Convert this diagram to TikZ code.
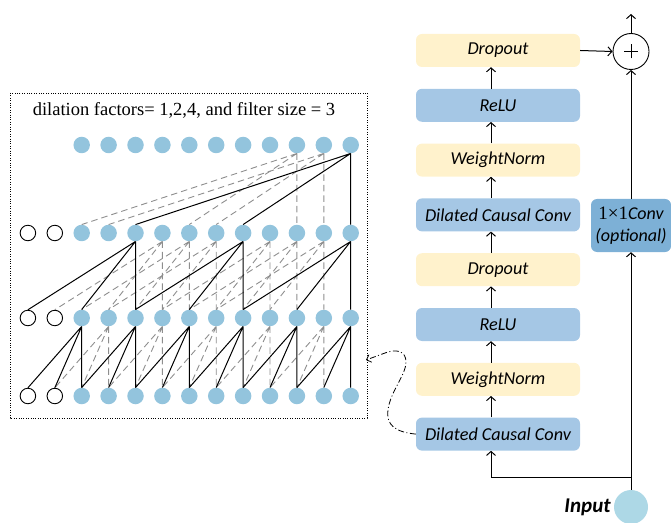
\documentclass[tikz,border=0pt]{standalone}
\usepackage{fontspec}
\setmainfont{Liberation Serif}
\newfontfamily\carlito{Carlito}
\usetikzlibrary{arrows.meta}

\definecolor{nodeblue}{HTML}{93C4DD}
\definecolor{boxblue}{HTML}{A5C7E5}
\definecolor{boxyellow}{HTML}{FFF2CC}
\definecolor{convblue}{HTML}{7DB0D6}
\definecolor{inputblue}{HTML}{ADD8E6}
\definecolor{dashgray}{HTML}{8E8E8E}

% links of one dilated layer: style, upper row, lower row, dilation, list of unit indices
\newcommand\tcnlinks[5]{%
  \foreach \j in {#5} {%
    \pgfmathtruncatemacro\ka{\j+2}%
    \pgfmathtruncatemacro\kb{\j+2-#4}%
    \pgfmathtruncatemacro\kc{\j+2-2*#4}%
    \draw[#1] (n#2-\ka.south) -- (n#3-\ka.north)
              (n#2-\ka.south) -- (n#3-\kb.north)
              (n#2-\ka.south) -- (n#3-\kc.north);
  }%
}

\begin{document}
\begin{tikzpicture}[x=1bp,y=-1bp,
  unit/.style={circle,fill=nodeblue,minimum size=16.5bp,inner sep=0},
  pad/.style={circle,draw=black,line width=0.9bp,fill=white,minimum size=15.5bp,inner sep=0},
  solidlink/.style={black,line width=1bp},
  dashlink/.style={dashgray,line width=0.9bp,dash pattern=on 6.5bp off 4bp},
  layer/.style={rounded corners=6bp,minimum width=164bp,minimum height=33bp,inner sep=0,
    font=\carlito\itshape\fontsize{18.2bp}{20bp}\selectfont},
  yel/.style={layer,fill=boxyellow},
  blu/.style={layer,fill=boxblue},
  flow/.style={black,line width=1bp,-{Straight Barb[length=4bp,width=9bp]}},
]
\useasboundingbox (0,0) rectangle (671,523);

% ---- dilated causal convolution detail ----
\draw[line width=0.8bp,dash pattern=on 1bp off 1.4bp] (10,93) rectangle (367,418);
\node[font=\fontsize{18.5bp}{20bp}\selectfont] (title) at (184,110)
  {dilation factors= 1,2,4, and filter size = 3};

\foreach \k in {2,...,12}
  \node[unit] (n1-\k) at ({27.9+26.9*\k},145) {};
\foreach \r/\y in {2/233,3/318,4/396} {
  \foreach \k in {0,1}
    \node[pad] (n\r-\k) at ({27.9+26.9*\k},\y) {};
  \foreach \k in {2,...,12}
    \node[unit] (n\r-\k) at ({27.9+26.9*\k},\y) {};
}

\tcnlinks{dashlink}{3}{4}{1}{1,3,5,7,9}
\tcnlinks{dashlink}{2}{3}{2}{3,4,5,7,8,9}
\tcnlinks{dashlink}{1}{2}{4}{8,9}
\tcnlinks{solidlink}{3}{4}{1}{0,2,4,6,8,10}
\tcnlinks{solidlink}{2}{3}{2}{2,6,10}
\tcnlinks{solidlink}{1}{2}{4}{10}

% ---- residual block ----
\coordinate (ax) at (491,0);
\node[yel] (drop2) at (498,50.5)  {Dropout};
\node[blu] (relu2) at (498,105.3) {ReLU};
\node[yel] (wn2)   at (498,160.1) {WeightNorm};
\node[blu] (dcc2)  at (498,214.9) {Dilated Causal Conv};
\node[yel] (drop1) at (498,269.7) {Dropout};
\node[blu] (relu1) at (498,324.5) {ReLU};
\node[yel] (wn1)   at (498,379.3) {WeightNorm};
\node[blu] (dcc1)  at (498,434.1) {Dilated Causal Conv};

\draw[flow] (dcc1.north -| ax) -- (wn1.south -| ax);
\draw[flow] (wn1.north -| ax) -- (relu1.south -| ax);
\draw[flow] (relu1.north -| ax) -- (drop1.south -| ax);
\draw[flow] (drop1.north -| ax) -- (dcc2.south -| ax);
\draw[flow] (dcc2.north -| ax) -- (wn2.south -| ax);
\draw[flow] (wn2.north -| ax) -- (relu2.south -| ax);
\draw[flow] (relu2.north -| ax) -- (drop2.south -| ax);

\node[circle,draw=black,line width=0.9bp,fill=white,minimum size=36bp,inner sep=0,
  path picture={\draw[line width=0.8bp]
    ([xshift=-7bp]path picture bounding box.center) -- ([xshift=7bp]path picture bounding box.center)
    ([yshift=-7bp]path picture bounding box.center) -- ([yshift=7bp]path picture bounding box.center);}]
  (sum) at (631,51.5) {};
\coordinate (out) at (631,14);
\draw[flow] (drop2.east) -- (sum.west);
\draw[flow] (sum.north) -- (out);

\node[fill=convblue,rounded corners=6bp,minimum width=80bp,minimum height=53bp,inner sep=0,
  align=center,font=\carlito\itshape\fontsize{18bp}{22bp}\selectfont]
  (skip) at (631,225.5) {{\rmfamily\upshape\fontsize{19bp}{22bp}\selectfont 1\texttimes 1}Conv\\(optional)};

\node[circle,fill=inputblue,minimum size=34bp,inner sep=0] (in) at (631,507) {};
\node[anchor=east,inner sep=0,font=\carlito\bfseries\itshape\fontsize{21bp}{24bp}\selectfont]
  (inlabel) at ([xshift=-3bp]in.west) {Input};

\coordinate (fork) at (631,477);
\draw[flow] (in.north) -- (skip.south);
\draw[flow] (skip.north) -- (sum.south);
\draw[flow] (fork) -| (dcc1.south -| ax);

% pointer from the convolution block to its detail
\coordinate (zoomtip) at (366,360);
\draw[black,line width=0.8bp,dash pattern=on 6bp off 2.5bp on 1bp off 2.5bp,
  -{Straight Barb[length=4bp,width=8bp]}]
  (dcc1.west) .. controls (395,432) and (386,425) .. (388,410)
  .. controls (390,392) and (406,375) .. (406,362)
  .. controls (406,350) and (395,349) .. (385,353) -- (zoomtip);
\end{tikzpicture}
\end{document}
